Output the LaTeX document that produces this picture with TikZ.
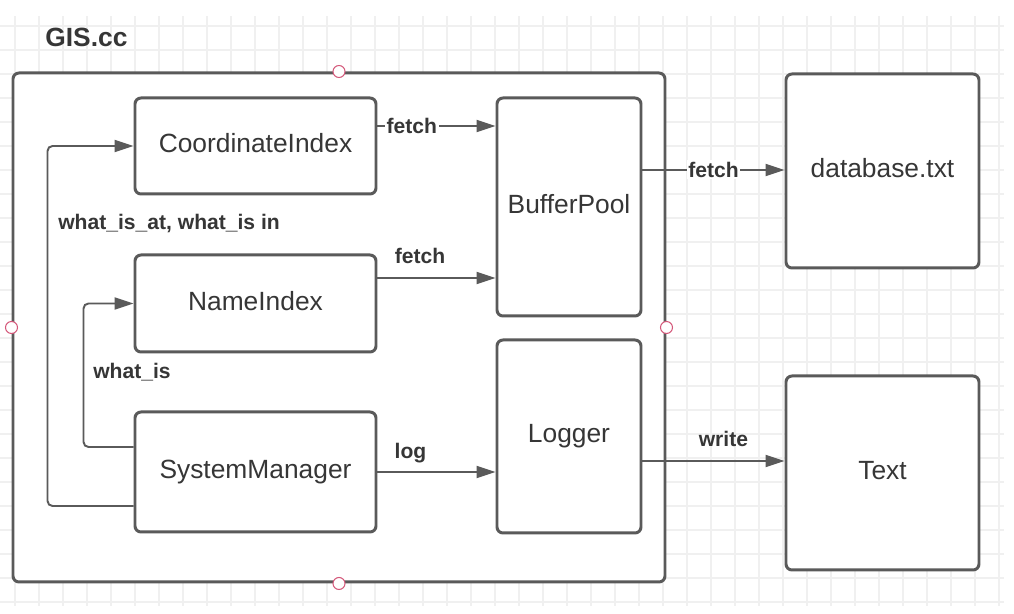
\documentclass[tikz,border=0pt]{standalone}
\usepackage{fontspec}
\setmainfont{Liberation Sans}
\usetikzlibrary{shapes.geometric, arrows.meta}

\definecolor{lineg}{HTML}{5A5A5A}
\definecolor{textg}{HTML}{363636}
\definecolor{gridg}{HTML}{F0F0F0}
\definecolor{handlered}{HTML}{D4587A}

\tikzset{
  box/.style={draw=lineg, line width=1.7pt, rounded corners=1.2mm, fill=white, text=textg, font=\fontsize{15}{18}\selectfont, text depth=0.3em},
  lbl/.style={font=\bfseries\fontsize{12}{14}\selectfont, text=textg},
  arr/.style={draw=lineg, line width=1.1pt, -{Triangle[length=3.8mm,width=2.4mm]}},
  handle/.style={circle, draw=handlered, fill=white, line width=0.6pt, inner sep=0pt, minimum size=0.24cm}
}

\begin{document}
\begin{tikzpicture}
            \useasboundingbox (0,0) rectangle (20.28,12.28);
            % background grid
            \foreach \i in {0,...,41}
               \draw[gridg, line width=0.6pt] (0.30+0.48*\i,0.16) -- ++(0,11.80);
            \foreach \k in {1,...,25}
               \draw[gridg, line width=0.6pt] (0,12.24-0.48*\k) -- ++(20.08,0);

            \node[text=textg, font=\bfseries\fontsize{15}{18}\selectfont, anchor=west, inner sep=0pt](t)at(0.90,11.54){GIS.cc};
            \node[box, minimum width=13.04cm, minimum height=10.18cm](gis)at(6.78,5.73){};
            \foreach \a in {north,south,east,west}
               \node[handle](h-\a)at(gis.\a){};

            \node[box, minimum width=4.82cm, minimum height=1.92cm](n1)at(5.11,9.36){CoordinateIndex};
            \node[box, minimum width=4.82cm, minimum height=1.94cm](n2)at(5.11,6.21){NameIndex};
            \node[box, minimum width=4.82cm, minimum height=2.40cm](n3)at(5.11,2.84){SystemManager};
            \node[box, minimum width=2.88cm, minimum height=4.36cm](n4)at(11.38,8.14){BufferPool};
            \node[box, minimum width=2.88cm, minimum height=3.86cm](n5)at(11.38,3.55){Logger};
            \node[box, minimum width=3.86cm, minimum height=3.88cm](n6)at(17.65,8.86){database.txt};
            \node[box, minimum width=3.86cm, minimum height=3.88cm](n7)at(17.65,2.82){Text};

            \draw[arr]([yshift=4mm]n1.east)--([yshift=4mm]n1.east -| n4.west) node[lbl, pos=0.29, fill=white, inner sep=1pt]{fetch};
            \draw[arr]([yshift=5.1mm]n2.east)--([yshift=5.1mm]n2.east -| n4.west) node[lbl, pos=0.36, above=1.5mm]{fetch};
            \draw[arr]([yshift=7.4mm]n4.east)--([yshift=7.4mm]n4.east -| n6.west) node[lbl, pos=0.5, fill=white, inner sep=1pt]{fetch};
            \draw[arr](n3.east)--(n3.east -| n5.west) node[lbl, pos=0.28, above=0.4mm]{log};
            \draw[arr]([yshift=-4.9mm]n5.east)--([yshift=-4.9mm]n5.east -| n7.west) node[lbl, pos=0.57, above=1.5mm]{write};

            % calls from the system manager
            \draw[arr, rounded corners=1mm]([yshift=-6.8mm]n3.west)-- ++(-1.72,0) |- node[lbl, pos=0.393, right=0.8mm]{what\_is\_at, what\_is in} (n1.west);
            \draw[arr, rounded corners=1mm]([yshift=5mm]n3.west)-- ++(-1.00,0) |- node[lbl, pos=0.26, right=0.6mm]{what\_is} (n2.west);
\end{tikzpicture}
\end{document}
